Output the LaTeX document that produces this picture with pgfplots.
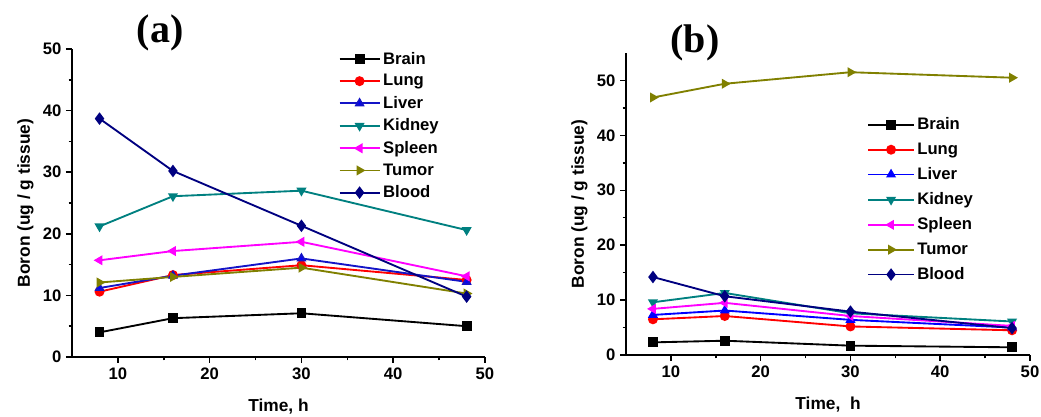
\documentclass[border=0pt]{standalone}
\usepackage{fontspec}
\setmainfont{Liberation Sans}
\newfontfamily\serifb{Liberation Serif}
\usepackage{pgfplots}
\usepackage{pgfplotstable}
\pgfplotsset{compat=1.18}

\definecolor{navy}{rgb}{0,0,0.5}
\definecolor{tealc}{rgb}{0,0.5,0.5}
\definecolor{olivec}{rgb}{0.5,0.5,0}
\definecolor{magc}{rgb}{1,0,1}
\definecolor{liverA}{rgb}{0.08,0.08,0.78}

% panel (a)
\pgfplotstableread{
t  brain lung liver kidney spleen tumor blood
8  4.0   10.6 11.2  21.2   15.7   12.1  38.7
16 6.3   13.3 13.2  26.1   17.2   13.0  30.2
30 7.1   14.9 16.0  27.0   18.7   14.5  21.3
48 5.0   12.5 12.2  20.6   13.1   10.3  9.8
}\dataA
% panel (b)
\pgfplotstableread{
t  brain lung liver kidney spleen tumor blood
8  2.3   6.5  7.3   9.6    8.4    46.9  14.2
16 2.6   7.1  8.1   11.3   9.5    49.4  10.7
30 1.7   5.2  6.4   7.6    7.1    51.5  7.9
48 1.4   4.5  5.0   6.1    5.3    50.5  4.9
}\dataB

\pgfplotsset{
  panel/.style={
    scale only axis,
    axis x line*=bottom, axis y line*=left,
    axis line style={line width=1.3pt},
    tick align=outside,
    major tick length=4.5pt, minor tick length=2.5pt,
    every tick/.style={line width=1.1pt, black},
    minor x tick num=1, minor y tick num=1,
    xmin=5, xmax=50, xtick={10,20,30,40,50},
    /pgf/number format/assume math mode=true,
    ticklabel style={font=\bfseries\fontsize{12.5}{14}\selectfont},
    label style={font=\bfseries\fontsize{13}{15}\selectfont},
    xlabel style={yshift=-8pt},
    ylabel style={yshift=0pt},
    ylabel={Boron (ug / g tissue)},
    legend cell align=left,
    legend style={draw=none, fill=none, font=\bfseries\fontsize{12.5}{14}\selectfont,
      row sep=2.3pt, inner sep=0pt},
    every axis plot/.append style={line width=1.4pt, mark size=3pt},
  },
  panelAlegend/.style={legend image code/.code={%
    \draw[mark repeat=2,mark phase=2] plot coordinates {(0pt,0pt)(15pt,0pt)(30pt,0pt)};}},
  panelBlegend/.style={legend image code/.code={%
    \draw[mark repeat=2,mark phase=2] plot coordinates {(0pt,0pt)(17pt,0pt)(34pt,0pt)};}},
}

\begin{document}
\begin{tikzpicture}
\useasboundingbox (0,0) rectangle (780.75pt,312.75pt);

\begin{axis}[panel, panelAlegend,
  at={(54pt,45pt)}, anchor=south west,
  width=309.75pt, height=231pt,
  ymin=0, ymax=50, ytick={0,10,20,30,40,50},
  xlabel={Time, h},
  legend style={at={(0.645,1.0)}, anchor=north west},
]
\addplot[black, mark=square*] table[x=t,y=brain] {\dataA};
\addlegendentry{Brain}
\addplot[red, mark=*] table[x=t,y=lung] {\dataA};
\addlegendentry{Lung}
\addplot[liverA, mark=triangle*, mark options={fill=blue}] table[x=t,y=liver] {\dataA};
\addlegendentry{Liver}
\addplot[tealc, mark=triangle*, mark options={rotate=180}] table[x=t,y=kidney] {\dataA};
\addlegendentry{Kidney}
\addplot[magc, mark=triangle*, mark options={rotate=90}] table[x=t,y=spleen] {\dataA};
\addlegendentry{Spleen}
\addplot[olivec, mark=triangle*, mark options={rotate=-90}] table[x=t,y=tumor] {\dataA};
\addlegendentry{Tumor}
\addplot[navy, mark=diamond*, mark size=3.6pt] table[x=t,y=blood] {\dataA};
\addlegendentry{Blood}
\end{axis}

\begin{axis}[panel, panelBlegend,
  at={(469.5pt,46.5pt)}, anchor=south west,
  width=303pt, height=226.5pt,
  ymin=0, ymax=55, ytick={0,10,20,30,40,50},
  xlabel={Time,\ \ h},
  legend style={at={(0.597,0.795)}, anchor=north west, row sep=4.3pt},
]
\addplot[black, mark=square*] table[x=t,y=brain] {\dataB};
\addlegendentry{Brain}
\addplot[red, mark=*] table[x=t,y=lung] {\dataB};
\addlegendentry{Lung}
\addplot[blue, mark=triangle*] table[x=t,y=liver] {\dataB};
\addlegendentry{Liver}
\addplot[tealc, mark=triangle*, mark options={rotate=180}] table[x=t,y=kidney] {\dataB};
\addlegendentry{Kidney}
\addplot[magc, mark=triangle*, mark options={rotate=90}] table[x=t,y=spleen] {\dataB};
\addlegendentry{Spleen}
\addplot[olivec, mark=triangle*, mark options={rotate=-90}] table[x=t,y=tumor] {\dataB};
\addlegendentry{Tumor}
\addplot[navy, mark=diamond*, mark size=3.6pt] table[x=t,y=blood] {\dataB};
\addlegendentry{Blood}
\end{axis}

\node[font=\serifb\bfseries\fontsize{30}{32}\selectfont] at (120pt,288pt) {(a)};
\node[font=\serifb\bfseries\fontsize{30}{32}\selectfont] at (521.25pt,280.5pt) {(b)};
\end{tikzpicture}
\end{document}
